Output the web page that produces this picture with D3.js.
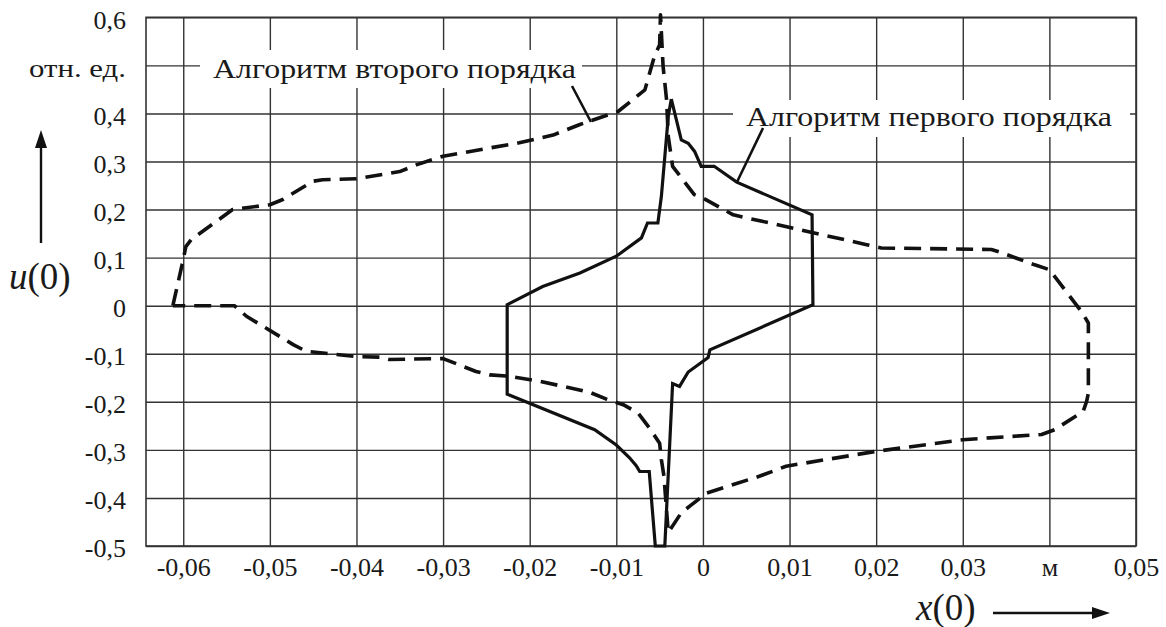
<!DOCTYPE html>
<html>
<head>
<meta charset="utf-8">
<script src="https://cdn.jsdelivr.net/npm/d3@7"></script>
<style>
  html, body { margin: 0; padding: 0; background: #fff; }
  svg { display: block; }
</style>
</head>
<body>
<svg id="chart" width="1166" height="627"></svg>
<script>
// ---- data ----
const xTicks = [-0.06, -0.05, -0.04, -0.03, -0.02, -0.01, 0, 0.01, 0.02, 0.03, 0.04, 0.05];
const xTickLabels = ["-0,06", "-0,05", "-0,04", "-0,03", "-0,02", "-0,01", "0", "0,01", "0,02", "0,03", "м", "0,05"];
const yTicks = [0.6, 0.5, 0.4, 0.3, 0.2, 0.1, 0, -0.1, -0.2, -0.3, -0.4, -0.5];
const yTickLabels = ["0,6", "отн. ед.", "0,4", "0,3", "0,2", "0,1", "0", "-0,1", "-0,2", "-0,3", "-0,4", "-0,5"];

// Algorithm of the first order (solid)
const firstX = [-0.00365, -0.0025, -0.0017, -0.00096, -0.0002, 0.0013, 0.0039, 0.0126, 0.0127, 0.0008, 0.0006, -0.0017, -0.0027, -0.0035, -0.0044, -0.0055, -0.0062, -0.0073, -0.0077, -0.0085, -0.0100, -0.0125, -0.0226, -0.0226, -0.0185, -0.0142, -0.0100, -0.0071, -0.0064, -0.0052, -0.0048, -0.0044, -0.0040, -0.00365];
const firstY = [0.430, 0.345, 0.338, 0.321, 0.290, 0.290, 0.257, 0.189, 0.002, -0.092, -0.108, -0.138, -0.168, -0.162, -0.500, -0.500, -0.345, -0.345, -0.333, -0.316, -0.290, -0.258, -0.184, 0.002, 0.040, 0.068, 0.103, 0.141, 0.172, 0.172, 0.227, 0.310, 0.394, 0.430];

// Algorithm of the second order (dashed)
const secondX = [-0.0612, -0.0600, -0.0597, -0.0591, -0.0543, -0.0500, -0.0485, -0.0450, -0.0439, -0.0400, -0.0350, -0.0331, -0.0300, -0.0212, -0.0173, -0.0142, -0.0098, -0.0067, -0.0056, -0.0050, -0.0049,
  -0.0046, -0.0042, -0.0040, -0.0035, -0.0010, 0.0000, 0.0035, 0.0112, 0.0189, 0.0206, 0.0333, 0.0345, 0.0383, 0.0400, 0.0437, 0.0445, 0.0445, 0.0443, 0.0439, 0.0406, 0.0391, 0.0331, 0.0300, 0.0200, 0.0096, 0.0065, 0.0004, -0.0013, -0.0025, -0.0040,
  -0.0045, -0.0048, -0.0050, -0.0062, -0.0075, -0.0092, -0.0112, -0.0131, -0.0189, -0.0223, -0.0246, -0.0262, -0.0300, -0.0362, -0.0373, -0.0399, -0.0458, -0.0473, -0.0527, -0.0541, -0.0612];
const secondY = [0.000, 0.096, 0.123, 0.137, 0.200, 0.210, 0.221, 0.259, 0.262, 0.264, 0.279, 0.293, 0.311, 0.339, 0.355, 0.377, 0.404, 0.449, 0.519, 0.543, 0.605,
  0.498, 0.429, 0.352, 0.290, 0.231, 0.224, 0.189, 0.158, 0.127, 0.120, 0.117, 0.110, 0.085, 0.075, -0.012, -0.036, -0.182, -0.199, -0.220, -0.258, -0.268, -0.275, -0.279, -0.303, -0.334, -0.355, -0.390, -0.414, -0.431, -0.472,
  -0.355, -0.320, -0.286, -0.254, -0.223, -0.206, -0.194, -0.180, -0.157, -0.147, -0.144, -0.137, -0.110, -0.112, -0.107, -0.106, -0.095, -0.081, -0.022, 0.000, 0.000];

const label1 = "Алгоритм второго порядка";
const label2 = "Алгоритм первого порядка";

// ---- layout ----
const FONT = "'Liberation Serif'";
const INK = "#1a1a1a";
const svg = d3.select("#chart");
const L = 146, R = 1136, T = 17.3, B = 546;
const x = d3.scaleLinear().domain([-0.0643, 0.05]).range([L, R]);
const y = d3.scaleLinear().domain([-0.5, 0.6]).range([B, T]);
const gridColor = "#333";

const gx = svg.append("g").attr("transform", `translate(0,${B})`)
  .call(d3.axisBottom(x).tickValues(xTicks).tickSize(-(B - T)).tickFormat((d, i) => xTickLabels[i]).tickPadding(12));
gx.select(".domain").remove();
gx.selectAll(".tick line").attr("stroke", gridColor).attr("stroke-width", 1.4);
gx.selectAll(".tick text").style("font-family", FONT).style("font-size", "26px").attr("fill", INK);

const gy = svg.append("g").attr("transform", `translate(${L},0)`)
  .call(d3.axisLeft(y).tickValues(yTicks).tickSize(-(R - L)).tickFormat((d, i) => yTickLabels[i]).tickPadding(20));
gy.select(".domain").remove();
gy.selectAll(".tick line").attr("stroke", gridColor).attr("stroke-width", 1.4);
gy.selectAll(".tick text").style("font-family", FONT).style("font-size", "26px").attr("fill", INK).attr("dy", "0.42em");
gy.selectAll(".tick text").filter((d, i) => yTickLabels[i] === "отн. ед.")
  .attr("textLength", 97).attr("lengthAdjust", "spacingAndGlyphs");

svg.append("rect").attr("x", L).attr("y", T).attr("width", R - L).attr("height", B - T)
  .attr("fill", "none").attr("stroke", gridColor).attr("stroke-width", 1.6);

const line = d3.line().x(d => x(d[0])).y(d => y(d[1]));
const secondPts = secondX.map((v, i) => [v, secondY[i]]);
const firstPts = firstX.map((v, i) => [v, firstY[i]]);

svg.append("path").datum(secondPts).attr("d", line)
  .attr("fill", "none").attr("stroke", "#111").attr("stroke-width", 3.6)
  .attr("stroke-dasharray", "17,9").attr("stroke-linejoin", "round");
svg.append("path").datum(firstPts).attr("d", line)
  .attr("fill", "none").attr("stroke", "#111").attr("stroke-width", 3.2)
  .attr("stroke-linejoin", "miter");

function boxLabel(text, x0, x1, y0, y1, tx, ty, w) {
  svg.append("rect").attr("x", x0).attr("y", y0).attr("width", x1 - x0).attr("height", y1 - y0).attr("fill", "#fff");
  svg.append("text").attr("x", tx).attr("y", ty).style("font-family", FONT).style("font-size", "28px").attr("fill", INK)
    .attr("textLength", w).attr("lengthAdjust", "spacingAndGlyphs").text(text);
}
boxLabel(label1, 200, 582, 50, 88, 213, 78, 363);
boxLabel(label2, 733, 1130, 100, 137, 746, 126, 366);

svg.append("line").attr("x1", 572).attr("y1", 86).attr("x2", 591).attr("y2", 122)
  .attr("stroke", "#111").attr("stroke-width", 2.6);
svg.append("line").attr("x1", 763).attr("y1", 128).attr("x2", 737).attr("y2", 182)
  .attr("stroke", "#111").attr("stroke-width", 2.6);

const ut = svg.append("text").attr("x", 9).attr("y", 289).style("font-family", FONT).style("font-size", "37px").attr("fill", INK);
ut.append("tspan").style("font-style", "italic").text("u");
ut.append("tspan").text("(0)");
const xt = svg.append("text").attr("x", 916).attr("y", 620).style("font-family", FONT).style("font-size", "37px").attr("fill", INK);
xt.append("tspan").style("font-style", "italic").text("x");
xt.append("tspan").text("(0)");

svg.append("line").attr("x1", 41).attr("y1", 243).attr("x2", 41).attr("y2", 145)
  .attr("stroke", "#111").attr("stroke-width", 2.4);
svg.append("path").attr("d", "M41,130 L35,148 L47,148 Z").attr("fill", "#111");
svg.append("line").attr("x1", 993).attr("y1", 613).attr("x2", 1096).attr("y2", 613)
  .attr("stroke", "#111").attr("stroke-width", 2.4);
svg.append("path").attr("d", "M1110,613 L1092,607 L1092,619 Z").attr("fill", "#111");
</script>
</body>
</html>
